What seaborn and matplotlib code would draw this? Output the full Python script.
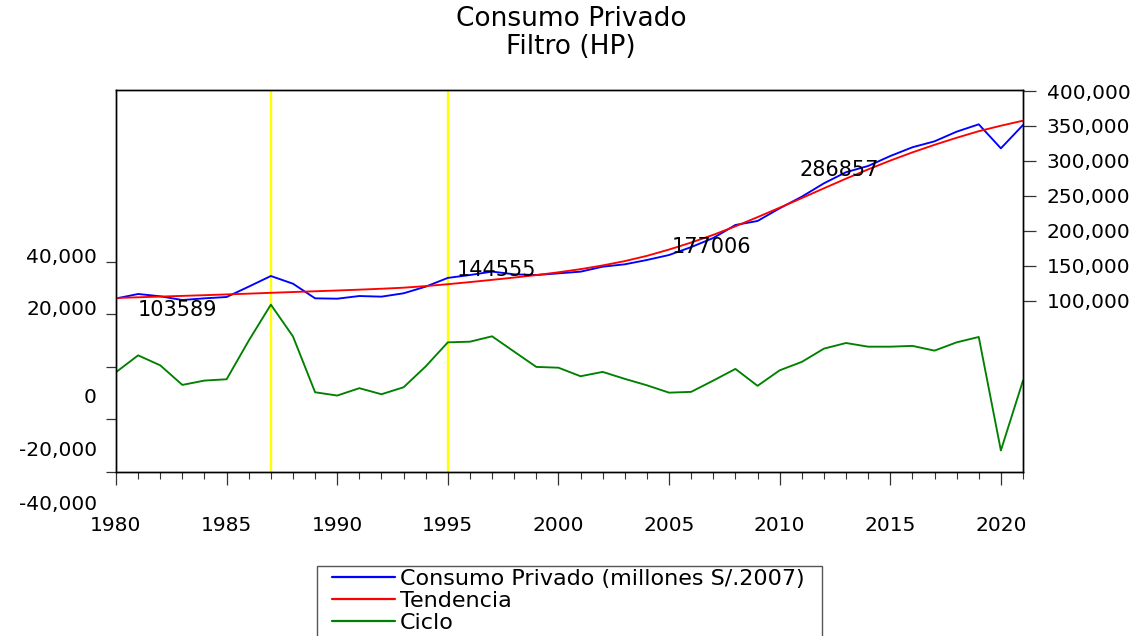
import numpy as np
import pandas as pd
import matplotlib
matplotlib.use("Agg")
import matplotlib.pyplot as plt
import matplotlib.transforms as mtransforms
from matplotlib.lines import Line2D
from matplotlib.patches import Rectangle
from matplotlib.ticker import MultipleLocator, FixedLocator
import seaborn as sns

years = list(range(1980, 2022))
consumo = [103589, 110000, 106700, 101400, 103800, 105700, 120500, 135700, 124700, 103800,
           103300, 107100, 106200, 111000, 120500, 133000, 137100, 142000, 138100, 137100,
           139500, 141900, 149000, 152400, 158600, 165700, 177006, 190000, 208600, 214300,
           232400, 249000, 268100, 284000, 292900, 307100, 319600, 328100, 341900, 352400,
           318100, 351400]
tendencia = [104300, 105300, 106300, 107300, 108300, 109400, 110500, 111700, 112800, 113900,
             115000, 116200, 117500, 119000, 121300, 124000, 127000, 130200, 133500, 137000,
             141000, 145500, 150800, 157000, 164500, 173500, 183500, 194500, 206700, 219800,
             233300, 247000, 261000, 274800, 288000, 300600, 312300, 323100, 333200, 342600,
             350400, 357600]
ciclo = [-2000, 4400, 600, -6850, -5200, -4700, 10000, 23700, 11600, -9650,
         -10900, -8100, -10400, -7750, 200, 9350, 9600, 11650, 5800, 0,
         -300, -3550, -1900, -4550, -7000, -9800, -9500, -5200, -760, -7200,
         -1300, 1900, 6950, 9100, 7700, 7700, 8000, 6200, 9350, 11400,
         -31800, -5200]

left_ticks = [40000, 20000, 0, -20000, -40000]
left_labels = ["40,000", "20,000", "0", "-20,000", "-40,000"]
right_ticks = [100000, 150000, 200000, 250000, 300000, 350000, 400000]
marks_years = [1987, 1995]
notes = [(1981.0, 87000, "103589"), (1995.4, 144555, "144555"),
         (2005.1, 177006, "177006"), (2010.9, 286857, "286857")]
legend_labels = ["Consumo Privado (millones S/.2007)", "Tendencia", "Ciclo"]

df = pd.DataFrame({"year": years, "consumo": consumo, "tendencia": tendencia, "ciclo": ciclo})

sns.set_theme(style="ticks")
plt.rcParams["font.family"] = ["DejaVu Sans"]
plt.rcParams["text.color"] = "black"
plt.rcParams["axes.labelcolor"] = "black"

fig = plt.figure(figsize=(11.38, 6.36), dpi=100)
ax = fig.add_axes([116/1138, 1-472/636, (1023-116)/1138, (472-90)/636])
ax2 = ax.twinx()

lw = 1.35
sns.lineplot(data=df, x="year", y="ciclo", ax=ax, color="#008000", linewidth=lw, legend=False)
sns.lineplot(data=df, x="year", y="consumo", ax=ax2, color="#0000FF", linewidth=lw, legend=False)
sns.lineplot(data=df, x="year", y="tendencia", ax=ax2, color="#FF0000", linewidth=lw, legend=False)

for yr in marks_years:
    ax.axvline(yr, color="#FFFF00", linewidth=1.7, zorder=0)

ax.set_xlim(1980, 2021)
ax.set_ylim(-40000, 105400)
ax2.set_ylim(-144300, 401430)
ax.set_xlabel("")
ax.set_ylabel("")
ax2.set_ylabel("")

fs = 14.5
# x ticks
ax.xaxis.set_major_locator(FixedLocator(list(range(1980, 2021, 5))))
ax.xaxis.set_minor_locator(MultipleLocator(1))
ax.tick_params(axis="x", which="major", direction="out", length=9, width=0.9,
               pad=23, labelsize=fs, colors="#333333", labelcolor="black")
ax.tick_params(axis="x", which="minor", direction="out", length=5, width=0.8, colors="#333333")

# left ticks (labels drawn as offset text, as in the original)
ax.yaxis.set_major_locator(FixedLocator(left_ticks))
ax.yaxis.set_minor_locator(FixedLocator([]))
ax.set_yticklabels([""] * len(left_ticks))
ax.tick_params(axis="y", which="major", direction="out", length=7, width=0.9, colors="#333333")
offsets_px = [4, 5, -31, -31, -33]
trans = mtransforms.blended_transform_factory(ax.transAxes, ax.transData)
for v, lab, dy in zip(left_ticks, left_labels, offsets_px):
    t = trans + mtransforms.ScaledTranslation(0, dy/100, fig.dpi_scale_trans)
    ax.text(-0.021, v, lab, transform=t, ha="right", va="center", fontsize=fs, color="black",
            clip_on=False)

# right ticks
ax2.yaxis.set_major_locator(FixedLocator(right_ticks))
ax2.set_yticklabels([f"{v:,}" for v in right_ticks])
ax2.tick_params(axis="y", which="major", direction="out", length=9, width=0.9, pad=8,
                labelsize=fs, colors="#333333", labelcolor="black")

for a in (ax, ax2):
    for s in a.spines.values():
        s.set_color("black")
        s.set_linewidth(1.0)
        s.set_visible(True)

# annotations
for xv, yv, txt in notes:
    ax2.text(xv, yv, txt, ha="left", va="center", fontsize=15, color="black")

# title
fig.text(571/1138, 1-33/636, "Consumo Privado\nFiltro (HP)", ha="center", va="center",
         fontsize=19, color="black", linespacing=1.05)

# legend box (extends past the bottom edge as in the original)
fig.patches.append(Rectangle((317/1138, -0.05), (822-317)/1138, (1-566/636)+0.05,
                             transform=fig.transFigure, facecolor="white",
                             edgecolor="#555555", linewidth=1.0, zorder=1))
handles = [Line2D([0], [0], color="#0000FF", lw=1.6),
           Line2D([0], [0], color="#FF0000", lw=1.6),
           Line2D([0], [0], color="#008000", lw=1.6)]
leg = fig.legend(handles, legend_labels, loc="upper left",
                 bbox_to_anchor=(332/1138, 1-569/636), bbox_transform=fig.transFigure,
                 fontsize=16, frameon=False,
                 handlelength=2.85, handletextpad=0.2, labelspacing=0.08,
                 borderpad=0.0, borderaxespad=0)
leg.set_zorder(2)

fig.savefig("out.png", dpi=100, facecolor="white")
